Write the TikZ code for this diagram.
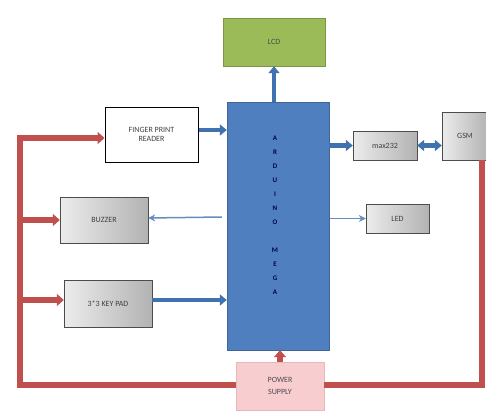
\documentclass[tikz,border=0pt]{standalone}
\usepackage{fontspec}
\setmainfont{Carlito}
\usetikzlibrary{arrows.meta, positioning}
\definecolor{megablue}{HTML}{4F7FBF}
\definecolor{busblue}{HTML}{3F72AF}
\definecolor{supplyred}{HTML}{C0504D}
\definecolor{lcdgreen}{HTML}{9BBB59}
\definecolor{psupink}{HTML}{F8CDD0}

\begin{document}
\begin{tikzpicture}[x=1pt, y=-1pt,
    block/.style={minimum width=#1, inner sep=1pt, align=center, font=\fontsize{8}{9.5}\selectfont},
    greybox/.style={draw=gray!60!black, left color=gray!15, right color=gray!60, text=black!75},
    bus/.style={line width=4.5pt, draw=busblue, -{Triangle[length=7pt, width=11pt]}},
    wire/.style={line width=1.5pt, draw=busblue!80, -{Stealth[length=7pt, width=7pt]}},
    power/.style={line width=6pt, draw=supplyred},
    feed/.style={power, -{Triangle[length=7pt, width=12pt]}}]
    \useasboundingbox (0,0) rectangle (486,412);
    \fill[white] (0,0) rectangle (486,412);

    % red supply loop
    \node[block=88pt, minimum height=48pt, fill=psupink, draw=supplyred!40, text=black!70] (psu) at (280,386) {POWER\\[2pt]SUPPLY};
    \coordinate (c_bl) at (20,385);
    \coordinate (c_tl) at (20,135);
    \coordinate (c_br) at (482,385);
    \node[block=46pt, minimum height=48pt, greybox] (gsm) at (465,136) {GSM};
    \draw[power] (c_tl) -- (c_bl) -- (psu.west |- c_bl);
    \draw[power] (psu.east |- c_br) -- (c_br) -- (c_br |- gsm.south);

    \node[block=102pt, minimum height=248pt, fill=megablue, draw=megablue!80!black] (mega) at (278,226) {};
    \node[font=\fontsize{7}{14}\selectfont\bfseries, text=blue!30!black, align=center] (label) at (275,215)
        {A\\R\\D\\U\\I\\N\\O\\[14pt]M\\E\\G\\A};
    \node[block=102pt, minimum height=48pt, fill=lcdgreen, draw=lcdgreen!80!black, text=black!70] (lcd) at (274,42) {LCD};
    \node[block=93pt, minimum height=55pt, fill=white, draw=black, line width=1pt, text=black!75] (fpr) at (151.5,134.5) {FINGER PRINT\\READER};
    \node[block=64pt, minimum height=29pt, greybox] (max) at (385,145.5) {max232};
    \node[block=63pt, minimum height=29pt, greybox] (led) at (397.5,218.5) {LED};
    \node[block=88pt, minimum height=46pt, greybox] (buzz) at (104,220) {BUZZER};
    \node[block=88pt, minimum height=47pt, greybox] (keys) at (108,303.5) {3*3 KEY PAD};

    % data lines
    \draw[bus] (mega.north -| lcd) -- (lcd.south);
    \draw[bus] (fpr.east |- 0,130) -- (mega.west |- 0,130);
    \draw[bus] (mega.east |- max) -- (max.west);
    \draw[bus, {Triangle[length=7pt, width=11pt]}-{Triangle[length=7pt, width=11pt]}] (max.east) -- (gsm.west |- max);
    \draw[bus] (keys.east |- 0,300) -- (mega.west |- 0,300);
    \draw[wire] ([xshift=-5pt]mega.west |- 0,217) -- (buzz.east |- 0,218);
    \draw[wire] ([xshift=1pt]mega.east |- led) -- (led.west);

    % power feeds
    \draw[feed] (c_tl |- 0,138) -- (fpr.west |- 0,138);
    \draw[feed] (c_tl |- buzz) -- (buzz.west);
    \draw[feed] (c_tl |- 0,300) -- (keys.west |- 0,300);
    \draw[feed, shorten >=0pt] (psu.north -| 280,0) -- (mega.south -| 280,0);
\end{tikzpicture}
\end{document}
